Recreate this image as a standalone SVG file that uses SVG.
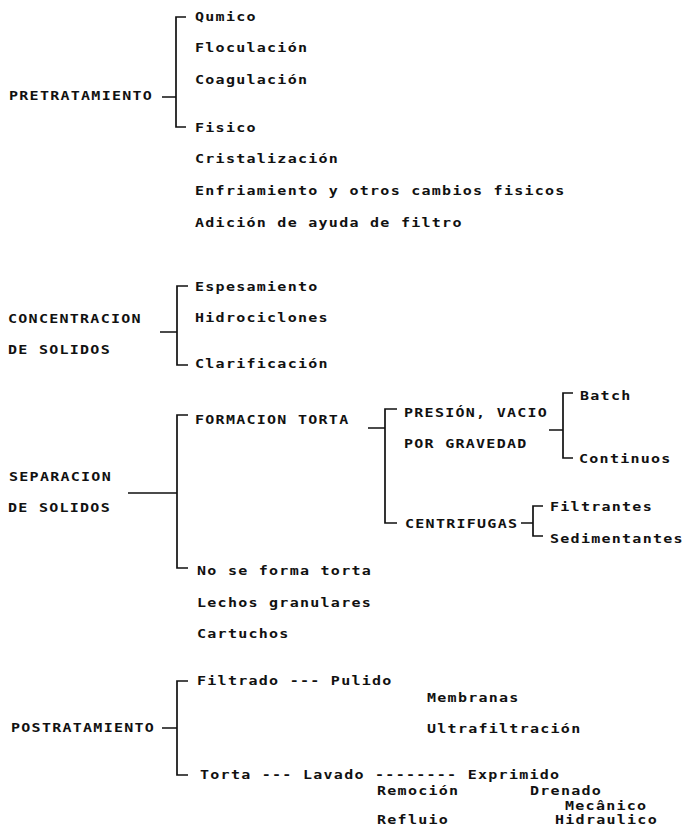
<svg xmlns="http://www.w3.org/2000/svg" width="686" height="828" viewBox="0 0 686 828">
<style>
text{font-family:"DejaVu Sans Mono","Liberation Mono",monospace;font-size:12.5px;font-weight:bold;letter-spacing:1.06px;fill:#111}
.br{fill:none;stroke:#111;stroke-width:1.7;stroke-linejoin:miter}
</style>
<rect width="686" height="828" fill="#fff"/>
<g id="connectors" class="br">
<path d="M186,17 H176 V127 H186 M162,97 H176"/>
<path d="M188,286 H177 V365 H188 M160,332 H177"/>
<path d="M188,415 H177 V568 H188 M128,493 H177"/>
<path d="M397,409 H385 V523 H397 M368,428 H385"/>
<path d="M573,393 H563 V458 H573 M549,430 H563"/>
<path d="M543,506 H533 V536 H543 M521,523 H533"/>
<path d="M188,681 H177 V775 H188 M162,728 H177"/>
</g>
<g id="pretratamiento"><text transform="translate(9,100) scale(1.2,1)">PRETRATAMIENTO</text></g>
<g id="quimico"><text transform="translate(195,21) scale(1.2,1)">Qumico</text></g>
<g id="floculacion"><text transform="translate(195,52) scale(1.2,1)">Floculación</text></g>
<g id="coagulacion"><text transform="translate(195,84) scale(1.2,1)">Coagulación</text></g>
<g id="fisico"><text transform="translate(195,132) scale(1.2,1)">Fisico</text></g>
<g id="cristalizacion"><text transform="translate(195,163) scale(1.2,1)">Cristalización</text></g>
<g id="enfriamiento"><text transform="translate(195,195) scale(1.2,1)">Enfriamiento y otros cambios fisicos</text></g>
<g id="adicion"><text transform="translate(195,227) scale(1.2,1)">Adición de ayuda de filtro</text></g>
<g id="concentracion"><text transform="translate(8,323) scale(1.2,1)">CONCENTRACION</text><text transform="translate(8,354) scale(1.2,1)">DE SOLIDOS</text></g>
<g id="espesamiento"><text transform="translate(195,291) scale(1.2,1)">Espesamiento</text></g>
<g id="hidrociclones"><text transform="translate(195,322) scale(1.2,1)">Hidrociclones</text></g>
<g id="clarificacion"><text transform="translate(195,368) scale(1.2,1)">Clarificación</text></g>
<g id="separacion"><text transform="translate(9,481) scale(1.2,1)">SEPARACION</text><text transform="translate(8,512) scale(1.2,1)">DE SOLIDOS</text></g>
<g id="formacion"><text transform="translate(195,424) scale(1.2,1)">FORMACION TORTA</text></g>
<g id="presion"><text transform="translate(404,417) scale(1.2,1)">PRESIÓN, VACIO</text><text transform="translate(404,448) scale(1.2,1)">POR GRAVEDAD</text></g>
<g id="centrifugas"><text transform="translate(405,528) scale(1.2,1)">CENTRIFUGAS</text></g>
<g id="batch"><text transform="translate(580,400) scale(1.2,1)">Batch</text></g>
<g id="continuos"><text transform="translate(579,463) scale(1.2,1)">Continuos</text></g>
<g id="filtrantes"><text transform="translate(550,511) scale(1.2,1)">Filtrantes</text></g>
<g id="sedimentantes"><text transform="translate(550,543) scale(1.2,1)">Sedimentantes</text></g>
<g id="no-torta"><text transform="translate(197,575) scale(1.2,1)">No se forma torta</text></g>
<g id="lechos"><text transform="translate(197,607) scale(1.2,1)">Lechos granulares</text></g>
<g id="cartuchos"><text transform="translate(197,638) scale(1.2,1)">Cartuchos</text></g>
<g id="postratamiento"><text transform="translate(11,732) scale(1.2,1)">POSTRATAMIENTO</text></g>
<g id="filtrado"><text transform="translate(197,685) scale(1.2,1)">Filtrado --- Pulido</text></g>
<g id="membranas"><text transform="translate(427,702) scale(1.2,1)">Membranas</text></g>
<g id="ultrafiltracion"><text transform="translate(427,733) scale(1.2,1)">Ultrafiltración</text></g>
<g id="torta"><text transform="translate(200,779) scale(1.2,1)">Torta --- Lavado -------- Exprimido</text></g>
<g id="remocion"><text transform="translate(377,795) scale(1.2,1)">Remoción</text></g>
<g id="drenado"><text transform="translate(530,795) scale(1.2,1)">Drenado</text></g>
<g id="mecanico"><text transform="translate(565,810) scale(1.2,1)">Mecânico</text></g>
<g id="reflujo"><text transform="translate(377,824) scale(1.2,1)">Refluio</text></g>
<g id="hidraulico"><text transform="translate(555,824) scale(1.2,1)">Hidraulico</text></g>
</svg>
